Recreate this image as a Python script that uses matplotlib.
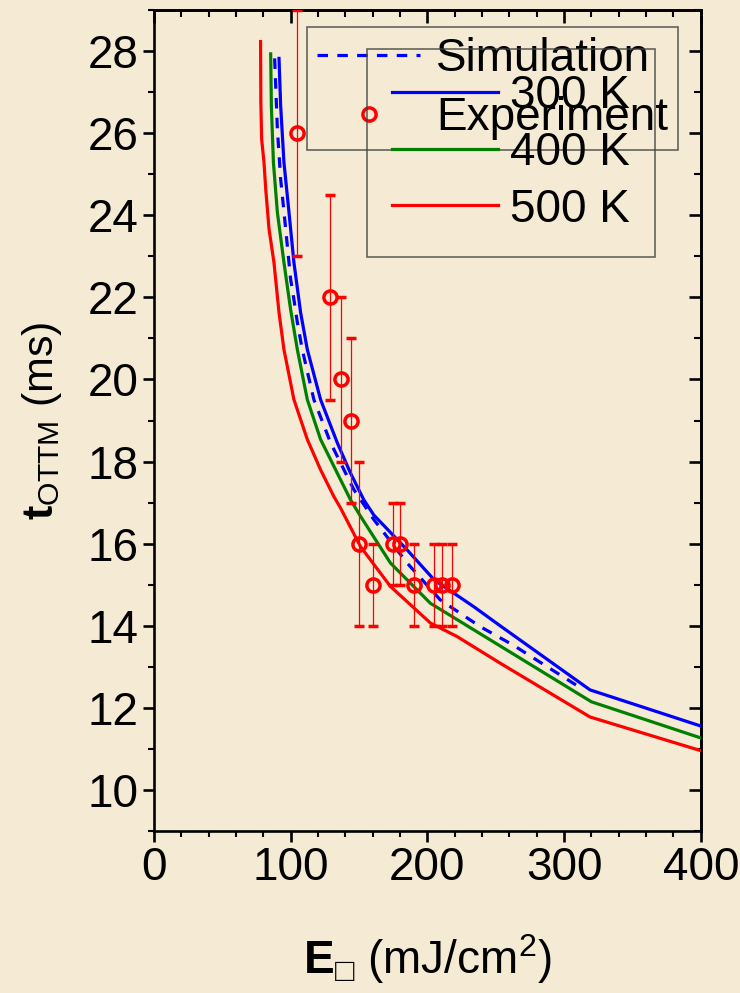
import matplotlib
matplotlib.use('Agg')
import matplotlib.pyplot as plt
from matplotlib.lines import Line2D

# simulated curves
e_300 = [91.5, 92.7, 95.1, 98.8, 102.4, 107.3, 112.2, 121.9, 134.1, 143.8, 153.5, 160.8,
         185.2, 205, 233.8, 253.3, 319, 400]
t_300 = [27.82, 26.67, 25.29, 24.07, 22.85, 21.63, 20.73, 19.51, 18.46, 17.72, 17.07, 16.7,
         15.85, 15.12, 14.47, 14.0, 12.44, 11.56]

e_400 = [85.4, 85.9, 87.4, 90.3, 95.1, 100, 104.9, 112.2, 121.9, 134.1, 143.8, 151.1,
         173, 202.2, 320, 400]
t_400 = [27.93, 26.67, 25.29, 24.07, 22.85, 21.7, 20.73, 19.51, 18.54, 17.72, 17.07, 16.67,
         15.53, 14.55, 12.15, 11.27]

e_500 = [78.0, 78.2, 78.8, 80.5, 81.8, 84.2, 87.8, 91.5, 95.1, 102.4, 112.2, 121.9, 131.6,
         136.5, 151.1, 173, 202.2, 221.7, 253.3, 319, 400]
t_500 = [28.23, 26.76, 25.85, 25.29, 24.63, 23.66, 22.85, 21.63, 20.73, 19.51, 18.54, 17.8, 17.15,
         16.87, 15.93, 14.96, 14.07, 13.74, 13.09, 11.78, 10.96]

e_sim = [88.3, 90.3, 92.7, 96.4, 100, 102.4, 104.9, 108.5, 117, 129.2, 141.4, 146.2, 160.8,
         185.2, 209.5, 238.7, 262.8, 312]
t_sim = [27.82, 26.1, 24.88, 23.66, 22.44, 21.95, 21.39, 20.73, 19.51, 18.46, 17.64, 17.32, 16.59,
         15.53, 14.63, 13.98, 13.53, 12.49]

# experiment
e_exp = [105, 129, 137, 144, 150, 160, 175, 180, 190, 205, 211, 218]
t_exp = [26, 22, 20, 19, 16, 15, 16, 16, 15, 15, 15, 15]
t_err = [3, 2.5, 2, 2, 2, 1, 1, 1, 1, 1, 1, 1]

bg = '#F5EBD5'
fs = 33
plt.rcParams['font.family'] = ['Liberation Sans', 'DejaVu Sans']
plt.rcParams['mathtext.fontset'] = 'custom'
plt.rcParams['mathtext.rm'] = 'Liberation Sans'
plt.rcParams['mathtext.it'] = 'Liberation Sans:italic'
plt.rcParams['mathtext.bf'] = 'Liberation Sans:bold'

fig = plt.figure(figsize=(7.4, 9.93), dpi=100, facecolor=bg)
ax = fig.add_axes([0.208, 0.163, 0.739, 0.827], facecolor=bg)

lw = 2.3
dash = (3.3, 2.9)
ax.plot(e_300, t_300, color='#0000FF', lw=lw, zorder=3)
ax.plot(e_400, t_400, color='#008000', lw=lw, zorder=3)
ax.plot(e_500, t_500, color='#FF0000', lw=lw, zorder=3)
ax.plot(e_sim, t_sim, color='#0000FF', lw=lw, dashes=dash, zorder=3)
ax.errorbar(e_exp, t_exp, yerr=t_err, fmt='o', color='#FF0000', mfc='none',
            mec='#FF0000', ms=9.5, mew=2.5, elinewidth=0.9, capsize=3.8,
            capthick=0.9, zorder=4)

ax.set_xlim(0, 400)
ax.set_ylim(9, 29)
ax.set_xticks([0, 100, 200, 300, 400])
ax.set_xticks(range(0, 401, 20), minor=True)
ax.set_yticks(range(10, 29, 2))
ax.set_yticks(range(9, 30, 1), minor=True)
for s in ax.spines.values():
    s.set_linewidth(1.9)
ax.tick_params(which='major', direction='out', length=8, width=1.9,
               labelsize=fs, pad=3)
ax.tick_params(which='minor', direction='out', length=4, width=1.5)

# top and right ticks point inward, no labels
top = ax.secondary_xaxis('top')
top.set_xticks([0, 100, 200, 300, 400])
top.set_xticks(range(0, 401, 20), minor=True)
top.tick_params(which='major', direction='in', length=9, width=1.9, labeltop=False)
top.tick_params(which='minor', direction='in', length=5, width=1.5)
top.spines['top'].set_linewidth(1.9)
right = ax.secondary_yaxis('right')
right.set_yticks(range(10, 29, 2))
right.set_yticks(range(9, 30, 1), minor=True)
right.tick_params(which='major', direction='in', length=9, width=1.9, labelright=False)
right.tick_params(which='minor', direction='in', length=5, width=1.5)
right.spines['right'].set_linewidth(1.9)

ax.set_xlabel('$\\mathbf{E}_{\u25a1}$ (mJ/cm$^{2}$)', fontsize=fs, labelpad=30)
ax.set_ylabel(r'$\mathbf{t}_{\mathrm{OTTM}}$ (ms)', fontsize=31, labelpad=17)

# two overlapping legend boxes
h_sim = Line2D([], [], color='#0000FF', lw=lw, dashes=dash)
h_exp = Line2D([], [], ls='none', marker='o', mfc='none', mec='#FF0000', ms=9.5, mew=2.5)
leg1 = fig.legend([h_sim, h_exp], ['Simulation', 'Experiment'], loc='upper left',
                  bbox_to_anchor=(0.415, 0.973), fontsize=fs, frameon=True,
                  fancybox=False, facecolor='none', edgecolor='#404040',
                  handlelength=2.25, handletextpad=0.35, borderpad=0.22,
                  labelspacing=0.32, borderaxespad=0)
leg1.get_frame().set_linewidth(1.2)

h300 = Line2D([], [], color='#0000FF', lw=lw)
h400 = Line2D([], [], color='#008000', lw=lw)
h500 = Line2D([], [], color='#FF0000', lw=lw)
leg2 = fig.legend([h300, h400, h500], ['300 K', '400 K', '500 K'], loc='upper left',
                  bbox_to_anchor=(0.496, 0.951), fontsize=fs, frameon=True,
                  fancybox=False, facecolor='none', edgecolor='#404040',
                  handlelength=2.3, handletextpad=0.28, borderpad=0.55,
                  labelspacing=0.28, borderaxespad=0)
leg2.get_frame().set_linewidth(1.2)

fig.savefig('out.png', dpi=100, facecolor=bg)
